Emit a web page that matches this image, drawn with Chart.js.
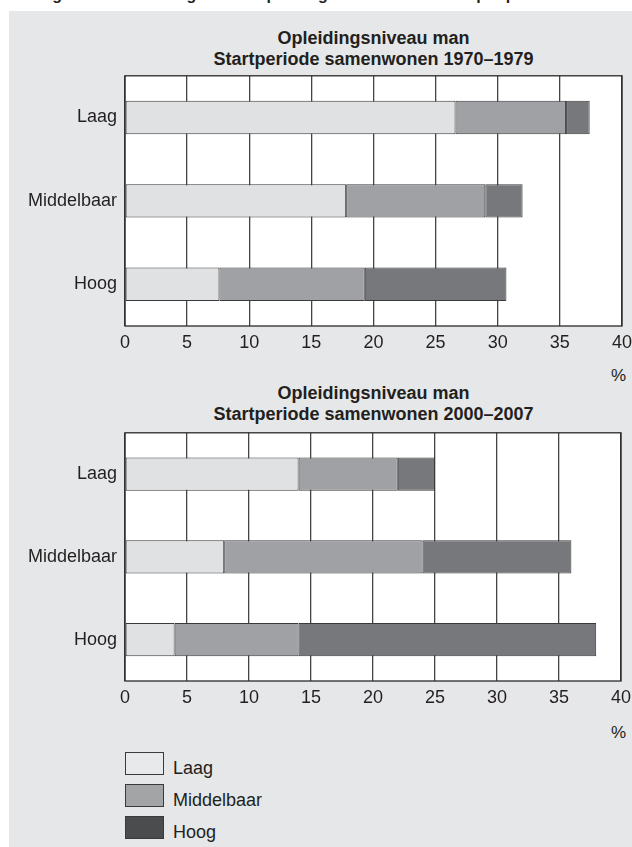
<!DOCTYPE html>
<html>
<head>
<meta charset="utf-8">
<script src="https://cdn.jsdelivr.net/npm/chart.js@4.4.1/dist/chart.umd.min.js"></script>
<style>
  html, body { margin: 0; padding: 0; background: #ffffff; }
  body { width: 632px; height: 847px; position: relative; overflow: hidden;
         font-family: "Liberation Sans", Arial, Helvetica, sans-serif; color: #231f20; }
  #panel { position: absolute; left: 9px; top: 11px; width: 623px; height: 836px; background: #e6e7e8; }
  .heading { position: absolute; left: 38px; top: 0; height: 5px; width: 500px; overflow: hidden; }
  .heading span { position: absolute; left: 0; top: -14px; font-weight: bold; font-size: 16px; white-space: nowrap; line-height: 18px; }
  .title { position: absolute; left: 125px; width: 497px; text-align: center; font-weight: bold;
           font-size: 18px; line-height: 21px; }
  .pct { position: absolute; left: 611px; font-size: 17px; line-height: 20px; }
  .chartbox { position: absolute; left: 0; width: 637px; }
  #legend { position: absolute; left: 125px; top: 752px; }
  .li { position: relative; height: 32px; }
  .sw { position: absolute; left: 0; top: 0; width: 37px; height: 21px; border: 1.4px solid #3a3a3a; }
  .lt { position: absolute; left: 48px; top: 6px; font-size: 18px; line-height: 21px; white-space: nowrap; }
</style>
</head>
<body>
<div id="panel"></div>
<div class="heading"><span>Figuur 3 Samenhang tussen opleiding van man en vrouw per paar</span></div>

<div class="title" style="top:28px">Opleidingsniveau man<br>Startperiode samenwonen 1970–1979</div>
<div class="chartbox" id="b1" style="top:57px;height:299px"><canvas id="c1"></canvas></div>
<div class="pct" style="top:366px">%</div>

<div class="title" style="top:383px">Opleidingsniveau man<br>Startperiode samenwonen 2000–2007</div>
<div class="chartbox" id="b2" style="top:414px;height:297px"><canvas id="c2"></canvas></div>
<div class="pct" style="top:723px">%</div>

<div id="legend"></div>

<script>
// ---- data ----
const categories = ['Laag', 'Middelbaar', 'Hoog'];
const seriesNames = ['Laag', 'Middelbaar', 'Hoog'];
const xTicks = [0, 5, 10, 15, 20, 25, 30, 35, 40];

// Startperiode 1970–1979
const p1970Laag = [26.6, 17.8, 7.6];
const p1970Middelbaar = [8.9, 11.2, 11.7];
const p1970Hoog = [1.9, 3.0, 11.4];

// Startperiode 2000–2007
const p2000Laag = [14, 8, 4];
const p2000Middelbaar = [8, 16, 10];
const p2000Hoog = [3, 12, 24];

// ---- styles ----
const barColors = ['#e0e1e3', '#a0a1a4', '#77787b'];
const legendColors = ['#e8e9ea', '#a3a4a6', '#4b4c4e'];
const FONT = '"Liberation Sans", Arial, Helvetica, sans-serif';
const TEXT = '#231f20';

const framePlugin = {
  id: 'frame',
  beforeDraw(chart) {
    const a = chart.chartArea, ctx = chart.ctx;
    ctx.save();
    ctx.fillStyle = '#ffffff';
    ctx.fillRect(a.left, a.top, a.right - a.left, a.bottom - a.top);
    ctx.restore();
  },
  afterDraw(chart) {
    const a = chart.chartArea, ctx = chart.ctx;
    ctx.save();
    ctx.strokeStyle = '#2a2a2a';
    ctx.lineWidth = 1.3;
    ctx.strokeRect(a.left, a.top, a.right - a.left, a.bottom - a.top);
    ctx.restore();
  }
};

function makeChart(id, values) {
  const datasets = values.map((v, i) => ({
    label: seriesNames[i],
    data: v,
    backgroundColor: barColors[i],
    borderColor: '#3a3a3a',
    borderWidth: 1,
    borderSkipped: false,
    categoryPercentage: 1,
    barPercentage: 0.4
  }));
  return new Chart(document.getElementById(id), {
    type: 'bar',
    data: { labels: categories, datasets },
    options: {
      indexAxis: 'y',
      responsive: true,
      maintainAspectRatio: false,
      animation: false,
      layout: { padding: { top: 10, right: 10, left: 0, bottom: 0 } },
      plugins: { legend: { display: false }, tooltip: { enabled: false }, title: { display: false } },
      scales: {
        x: {
          stacked: true, min: 0, max: 40,
          afterBuildTicks(axis) { axis.ticks = xTicks.map(v => ({ value: v })); },
          afterFit(axis) { axis.height = 30; },
          grid: { color: '#444', lineWidth: 1.3, drawTicks: false },
          border: { display: false },
          ticks: { color: TEXT, font: { family: FONT, size: 18 }, padding: 6 }
        },
        y: {
          stacked: true,
          afterFit(axis) { axis.width = 125; },
          grid: { display: false, drawTicks: false },
          border: { display: false },
          ticks: { color: TEXT, font: { family: FONT, size: 18 }, padding: 8 }
        }
      }
    },
    plugins: [framePlugin]
  });
}

// place a chart so that its plot area spans the wanted page rectangle
function place(chart, box, top, bottom, right) {
  for (let k = 0; k < 2; k++) {
    const a = chart.chartArea;
    const boxTop = parseFloat(box.style.top);
    const h = box.clientHeight, w = box.clientWidth;
    box.style.top = (top - a.top) + 'px';
    box.style.height = (h + (bottom - top) - (a.bottom - a.top)) + 'px';
    box.style.width = (w + right - a.right) + 'px';
    chart.resize();
  }
}

const ch1 = makeChart('c1', [p1970Laag, p1970Middelbaar, p1970Hoog]);
const ch2 = makeChart('c2', [p2000Laag, p2000Middelbaar, p2000Hoog]);
place(ch1, document.getElementById('b1'), 76, 326, 622);
place(ch2, document.getElementById('b2'), 433, 681, 621);

// legend
const lg = document.getElementById('legend');
seriesNames.forEach((n, i) => {
  const d = document.createElement('div');
  d.className = 'li';
  d.innerHTML = '<div class="sw" style="background:' + legendColors[i] + '"></div><div class="lt">' + n + '</div>';
  lg.appendChild(d);
});
</script>
</body>
</html>
